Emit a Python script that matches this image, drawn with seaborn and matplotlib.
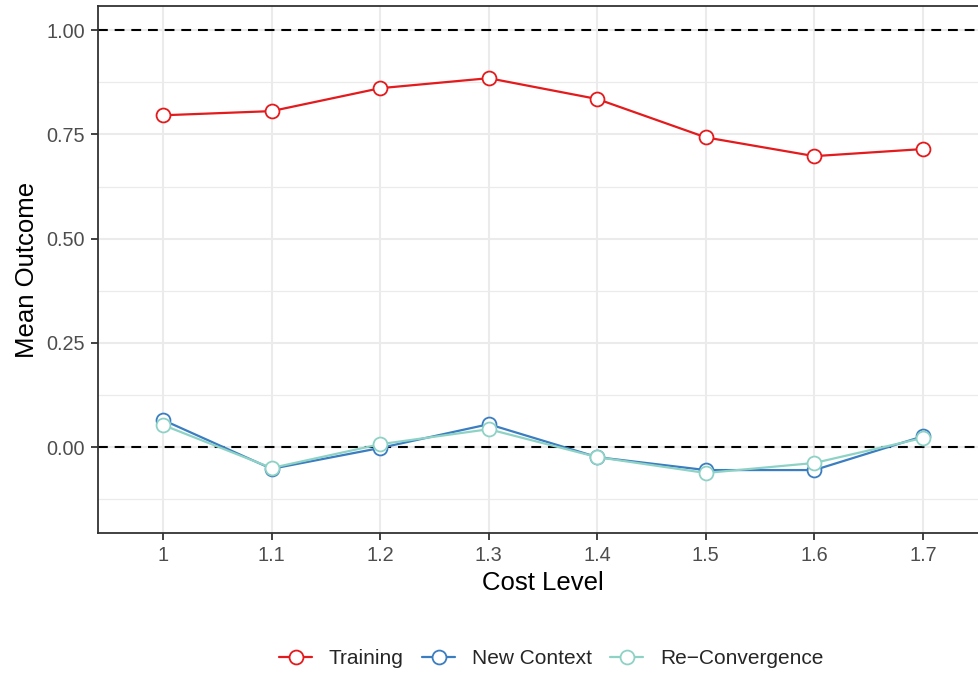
# -*- coding: utf-8 -*-

import pandas as pd
import numpy as np
import matplotlib
matplotlib.use("Agg")
import matplotlib.pyplot as plt
from matplotlib.lines import Line2D
from matplotlib.ticker import FixedLocator
import seaborn as sns

# Data ==================================================================================

cost_levels = ["1", "1.1", "1.2", "1.3", "1.4", "1.5", "1.6", "1.7"]
training = [0.796, 0.806, 0.861, 0.885, 0.835, 0.743, 0.698, 0.715]
new_context = [0.065, -0.052, -0.002, 0.055, -0.024, -0.055, -0.055, 0.026]
re_convergence = [0.053, -0.050, 0.007, 0.043, -0.024, -0.062, -0.038, 0.022]

series_names = ["Training", "New Context", "Re\u2212Convergence"]
series_colors = ["#E41A1C", "#3A7DC0", "#8ED2C6"]

df = pd.DataFrame({
    "Cost Level": cost_levels * 3,
    "Mean Outcome": training + new_context + re_convergence,
    "Phase": np.repeat(series_names, len(cost_levels)),
})
df["pos"] = df["Cost Level"].map({c: i for i, c in enumerate(cost_levels)})

# Plot ==================================================================================

sns.set_theme(style="white")
plt.rcParams["font.family"] = ["Liberation Sans", "DejaVu Sans"]

fig = plt.figure(figsize=(9.79, 6.73), dpi=100)
ax = fig.add_axes([0.1001, 0.208, 0.9091, 0.783])

# Dashed reference lines
ax.axhline(1.0, color="black", linestyle=(0, (4.7, 3.3)), linewidth=1.5, zorder=2)
ax.axhline(0.0, color="black", linestyle=(0, (4.7, 3.3)), linewidth=1.5, zorder=2)

for name, color in zip(series_names, series_colors):
    sns.lineplot(data=df[df["Phase"] == name], x="pos", y="Mean Outcome",
                 color=color, marker="o", markersize=10, markerfacecolor="white",
                 markeredgecolor=color, markeredgewidth=1.3, linewidth=1.6,
                 ax=ax, legend=False, zorder=3)

ax.set_xlim(-0.6, len(cost_levels) - 1 + 0.6)
ax.set_ylim(-0.206, 1.058)
ax.set_xticks(range(len(cost_levels)))
ax.set_xticklabels(cost_levels)
ax.set_yticks([0.0, 0.25, 0.5, 0.75, 1.0])
ax.set_yticklabels(["0.00", "0.25", "0.50", "0.75", "1.00"])
ax.yaxis.set_minor_locator(FixedLocator([-0.125, 0.125, 0.375, 0.625, 0.875]))

# Grid in the style of a white panel with light lines
ax.grid(which="major", color="#EBEBEB", linewidth=1.5, zorder=0)
ax.grid(which="minor", axis="y", color="#EBEBEB", linewidth=0.9, zorder=0)
ax.set_axisbelow(True)

for spine in ax.spines.values():
    spine.set_color("#333333")
    spine.set_linewidth(1.3)

ax.tick_params(axis="both", which="major", length=5, width=1.3, color="#333333",
               labelcolor="#4D4D4D", labelsize=14.3, pad=4.5, bottom=True, left=True)
ax.tick_params(axis="both", which="minor", length=0)

ax.set_xlabel("Cost Level", fontsize=18.5, color="black", labelpad=4.5)
ax.set_ylabel("Mean Outcome", fontsize=18.5, color="black", labelpad=5)

handles = [Line2D([], [], color=c, marker="o", markersize=10, markerfacecolor="white",
                  markeredgecolor=c, markeredgewidth=1.3, linewidth=1.6)
           for c in series_colors]
fig.legend(handles, series_names, loc="center", bbox_to_anchor=(0.563, 0.021),
           ncol=3, frameon=False, fontsize=15, handlelength=1.6, handletextpad=0.8,
           columnspacing=0.87)

plt.savefig("out.png", dpi=100)
